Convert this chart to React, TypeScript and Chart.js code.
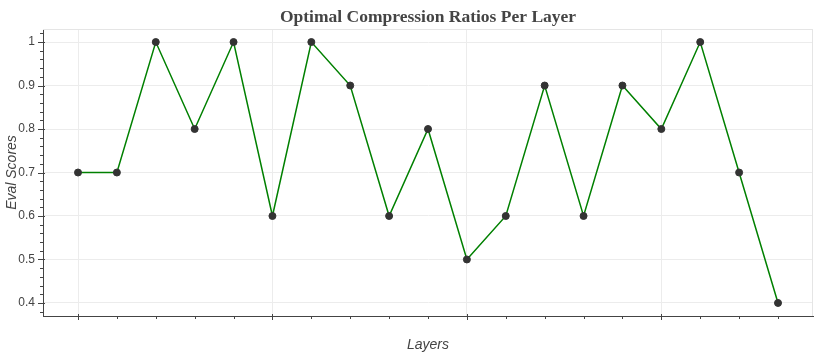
import React, { useEffect, useRef } from "react";
import { Chart, registerables } from "chart.js";

Chart.register(...registerables);

const layers = [0, 1, 2, 3, 4, 5, 6, 7, 8, 9, 10, 11, 12, 13, 14, 15, 16, 17, 18];
const evalScores = [0.7, 0.7, 1.0, 0.8, 1.0, 0.6, 1.0, 0.9, 0.6, 0.8, 0.5, 0.6, 0.9, 0.6, 0.9, 0.8, 1.0, 0.7, 0.4];
const yMajorTicks = [0.4, 0.5, 0.6, 0.7, 0.8, 0.9, 1.0];
const xMajorTicks = [0, 5, 10, 15];

const tickPlugin = {
  id: "bokehTicks",
  afterLayout(chart: any) {
    const tb = chart.titleBlock;
    if (tb) {
      tb.left = chart.chartArea.left;
      tb.right = chart.chartArea.right;
      tb.width = tb.right - tb.left;
    }
  },
  afterDraw(chart: any) {
    const { ctx, chartArea, scales } = chart;
    const x = scales.x;
    const y = scales.y;
    ctx.save();
    ctx.strokeStyle = "#e5e5e5";
    ctx.lineWidth = 1;
    ctx.beginPath();
    ctx.moveTo(chartArea.left, Math.round(chartArea.top) + 0.5);
    ctx.lineTo(chartArea.right, Math.round(chartArea.top) + 0.5);
    ctx.moveTo(Math.round(chartArea.right) - 0.5, chartArea.top);
    ctx.lineTo(Math.round(chartArea.right) - 0.5, chartArea.bottom);
    ctx.stroke();

    ctx.strokeStyle = "#444";
    ctx.lineWidth = 1;
    ctx.beginPath();
    const by = chartArea.bottom;
    for (let v = Math.ceil(x.min); v <= x.max; v += 1) {
      const px = Math.round(x.getPixelForValue(v)) + 0.5;
      const major = v % 5 === 0;
      ctx.moveTo(px, by - (major ? 2 : 0));
      ctx.lineTo(px, by + (major ? 4 : 3));
    }
    const lx = chartArea.left;
    for (let i = Math.ceil(y.min * 50 - 1e-6); i <= Math.floor(y.max * 50 + 1e-6); i++) {
      const v = i / 50;
      const py = Math.round(y.getPixelForValue(v)) + 0.5;
      const major = i % 5 === 0;
      ctx.moveTo(lx + (major ? 2 : 0), py);
      ctx.lineTo(lx - (major ? 5 : 3), py);
    }
    ctx.stroke();
    ctx.restore();
  },
};

export default function App() {
  const ref = useRef<HTMLCanvasElement | null>(null);
  useEffect(() => {
    if (!ref.current) return;
    const chart = new Chart(ref.current, {
      type: "line",
      data: {
        datasets: [
          {
            data: layers.map((l, i) => ({ x: l, y: evalScores[i] })),
            borderColor: "#008000",
            borderWidth: 1.5,
            pointRadius: 3.5,
            pointBackgroundColor: "#333",
            pointBorderColor: "#333",
            pointBorderWidth: 1,
            tension: 0,
          },
        ],
      },
      options: {
        animation: false,
        responsive: true,
        maintainAspectRatio: false,
        layout: { padding: { left: 0, right: 18, top: 0, bottom: 0 } },
        plugins: {
          legend: { display: false },
          tooltip: { enabled: false },
          title: {
            display: true,
            text: "Optimal Compression Ratios Per Layer",
            color: "#444",
            font: { family: "'Liberation Serif', 'Times New Roman', serif", size: 17.5, weight: "bold" },
            padding: { top: 7, bottom: 1 },
          },
        },
        scales: {
          x: {
            type: "linear",
            min: -0.9,
            max: 18.9,
            afterBuildTicks: (axis: any) => {
              axis.ticks = xMajorTicks.map((v) => ({ value: v }));
            },
            afterFit: (axis: any) => {
              axis.height = 40;
            },
            ticks: { display: false },
            grid: { color: "#ececec", drawTicks: false },
            border: { color: "#444", width: 1 },
            title: {
              display: true,
              text: "Layers",
              color: "#444",
              font: { family: "'Liberation Sans', Arial, sans-serif", size: 14, style: "italic" },
              padding: { top: 4, bottom: 2 },
            },
          },
          y: {
            type: "linear",
            min: 0.37,
            max: 1.03,
            afterBuildTicks: (axis: any) => {
              axis.ticks = yMajorTicks.map((v) => ({ value: v }));
            },
            afterFit: (axis: any) => {
              axis.width = 43;
            },
            ticks: {
              color: "#444",
              padding: 8,
              font: { family: "'Liberation Sans', Arial, sans-serif", size: 12 },
              callback: (v: any) => String(Number(Number(v).toFixed(1))),
            },
            grid: { color: "#ececec", drawTicks: false },
            border: { color: "#444", width: 1 },
            title: {
              display: true,
              text: "Eval Scores",
              color: "#444",
              font: { family: "'Liberation Sans', Arial, sans-serif", size: 14, style: "italic" },
              padding: { top: 4, bottom: 0 },
            },
          },
        },
      },
      plugins: [tickPlugin],
    } as any);
    return () => chart.destroy();
  }, []);
  return (
    <div style={{ position: "absolute", left: 0, top: 0, width: 831, height: 356, background: "#fff" }}>
      <canvas ref={ref} />
    </div>
  );
}
